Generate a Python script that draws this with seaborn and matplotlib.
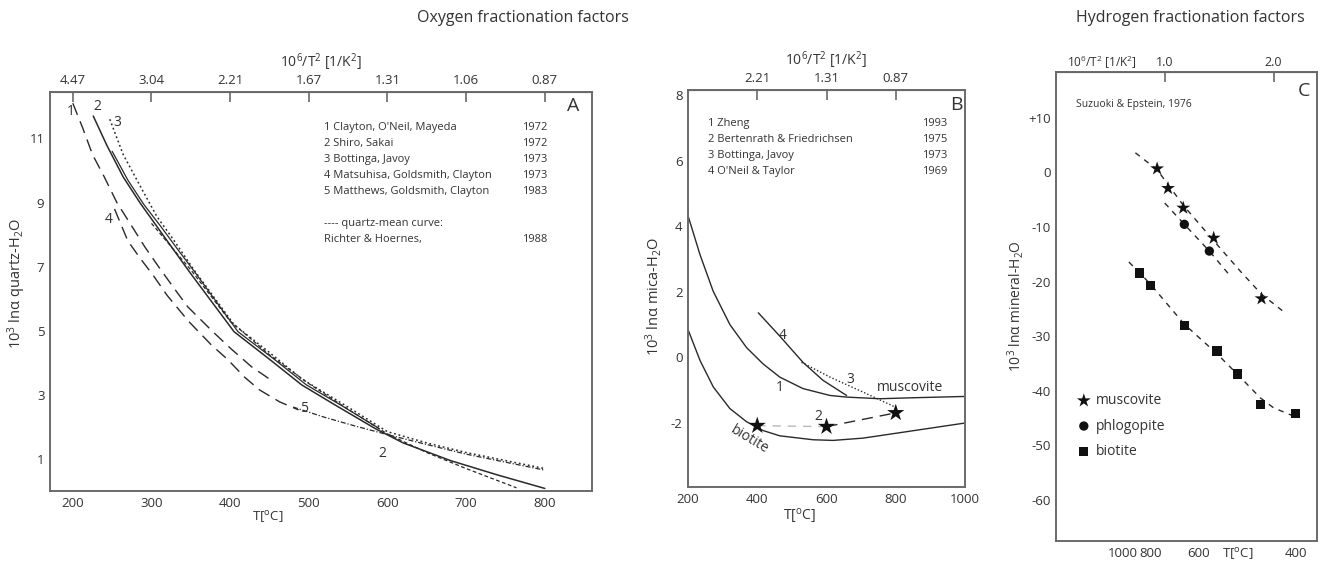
import numpy as np
import pandas as pd
import matplotlib
matplotlib.use("Agg")
import matplotlib.pyplot as plt
import seaborn as sns

sns.set_style("white")
plt.rcParams['font.family'] = ['Open Sans', 'DejaVu Sans']
plt.rcParams['mathtext.default'] = 'regular'
plt.rcParams['axes.unicode_minus'] = False

TXT = '#333333'
LN = '#2a2a2a'
SP = '#6a6a6a'

# ---------------- Panel A data (T in degC, 10^3 ln alpha quartz-H2O) ----------------
a1_T = [200, 213, 225, 240, 256, 273, 292, 309, 328, 346, 378, 401, 427, 455]
a1_v = [12.1, 11.3, 10.5, 9.8, 9.0, 8.34, 7.6, 7.0, 6.35, 5.75, 4.97, 4.44, 3.88, 3.41]
a4_T = [253, 270, 286, 303, 320, 347, 376, 397, 418, 437, 463, 487]
a4_v = [8.8, 7.8, 7.25, 6.7, 6.1, 5.3, 4.56, 4.1, 3.56, 3.16, 2.78, 2.53]
a5_T = [480, 520, 560, 600, 650, 700, 750, 800]
a5_v = [2.62, 2.3, 2.02, 1.76, 1.45, 1.15, 0.9, 0.65]
a2_T = [226, 243, 264, 286, 307, 328, 350, 405, 449, 491, 533, 585, 620, 680, 740, 800]
a2_v = [11.7, 10.8, 9.8, 8.97, 8.25, 7.53, 6.78, 4.97, 4.13, 3.31, 2.69, 1.94, 1.5, 0.95, 0.5, 0.08]
a2b_T = [250, 270, 290, 312, 333, 356, 410, 455, 497, 540, 590]
a2b_v = [10.6, 9.7, 8.95, 8.25, 7.55, 6.8, 4.97, 4.13, 3.31, 2.69, 1.94]
a3_T = [247, 264, 286, 307, 328, 354, 405, 449, 491, 551, 600, 650, 700, 750, 800]
a3_v = [11.6, 10.5, 9.5, 8.56, 7.84, 6.9, 5.19, 4.34, 3.5, 2.6, 1.85, 1.5, 1.2, 0.95, 0.7]
am_T = [300, 350, 400, 450, 500, 550, 600, 650, 700, 764]
am_v = [8.35, 6.9, 5.3, 4.25, 3.35, 2.55, 1.78, 1.2, 0.7, 0.1]

a_xticks = [200, 300, 400, 500, 600, 700, 800]
a_top_labels = ['4.47', '3.04', '2.21', '1.67', '1.31', '1.06', '0.87']
a_yticks = [1, 3, 5, 7, 9, 11]
a_refs = ['1 Clayton, O\'Neil, Mayeda', '2 Shiro, Sakai', '3 Bottinga, Javoy',
          '4 Matsuhisa, Goldsmith, Clayton', '5 Matthews, Goldsmith, Clayton']
a_years = ['1972', '1972', '1973', '1973', '1983']

# ---------------- Panel B data (T in degC, 10^3 ln alpha mica-H2O) ----------------
b1_T = [200, 235, 273, 321, 369, 417, 465, 532, 610, 658, 754, 850, 1000]
b1_v = [4.32, 3.12, 2.01, 1.0, 0.3, -0.2, -0.6, -0.95, -1.16, -1.21, -1.26, -1.23, -1.19]
b4_T = [403, 465, 532, 590, 658]
b4_v = [1.36, 0.65, -0.15, -0.70, -1.16]
b3_T = [528, 610, 706, 802]
b3_v = [-0.15, -0.6, -1.06, -1.53]
bbt_T = [200, 235, 273, 321, 369, 417, 465, 561, 619, 706, 802, 898, 1000]
bbt_v = [0.85, -0.1, -0.9, -1.56, -1.96, -2.23, -2.39, -2.51, -2.53, -2.46, -2.31, -2.16, -2.0]
b2_T = [400, 600, 800]
b2_v = [-2.08, -2.11, -1.69]
b_xticks = [200, 400, 600, 800, 1000]
b_top_T = [400, 600, 800]
b_top_labels = ['2.21', '1.31', '0.87']
b_yticks = [-2, 0, 2, 4, 6, 8]
b_refs = ['1 Zheng', '2 Bertenrath & Friedrichsen', '3 Bottinga, Javoy', "4 O'Neil & Taylor"]
b_years = ['1993', '1975', '1973', '1969']

# ---------------- Panel C data (x = 10^6/T^2, 10^3 ln alpha mineral-H2O) ----------------
mus_x = [0.93, 1.03, 1.17, 1.45, 1.89]
mus_y = [0.7, -2.9, -6.5, -12.0, -23.1]
phl_x = [1.18, 1.41]
phl_y = [-9.5, -14.4]
bio_x = [0.77, 0.87, 1.18, 1.48, 1.67, 1.88, 2.20]
bio_y = [-18.4, -20.7, -28.0, -32.7, -36.9, -42.5, -44.2]
musfit_x = [0.73, 0.93, 1.17, 1.45, 1.70, 1.89, 2.08]
musfit_y = [3.6, 0.5, -6.0, -12.5, -18.2, -22.3, -25.3]
phlfit_x = [1.0, 1.18, 1.41, 1.60]
phlfit_y = [-5.6, -9.5, -14.4, -18.9]
biofit_x = [0.67, 0.77, 0.87, 1.18, 1.48, 1.67, 1.88, 2.0, 2.17]
biofit_y = [-16.4, -18.4, -20.5, -27.8, -33.2, -37.0, -41.3, -43.1, -44.5]
c_T_ticks = [1000, 900, 800, 700, 600, 500, 400]
c_T_labels = ['1000', '', '800', '', '600', 'T[$^{o}$C]', '400']
c_top_ticks = [1.0, 2.0]
c_yticks = [10, 0, -10, -20, -30, -40, -50, -60]
c_ylabels = ['+10', '0', '-10', '-20', '-30', '-40', '-50', '-60']

# ---------------- figure ----------------
W, H = 1333, 564
fig = plt.figure(figsize=(W / 100, H / 100), dpi=100)


def box(l, t, r, b):
    return [l / W, (H - b) / H, (r - l) / W, (b - t) / H]


axA = fig.add_axes(box(50, 92, 592, 491))
axB = fig.add_axes(box(688, 90, 965, 487))
axC = fig.add_axes(box(1056, 72, 1317, 541))


def style(ax):
    for s in ax.spines.values():
        s.set_color(SP)
        s.set_linewidth(1.4)
    ax.tick_params(direction='in', length=7, width=1.2, color=SP, labelcolor=TXT,
                   labelsize=9.5, pad=4)


def line(ax, x, y, ls, lw=1.0, color=LN):
    df = pd.DataFrame({'x': x, 'y': y})
    sns.lineplot(data=df, x='x', y='y', ax=ax, sort=False, color=color,
                 linestyle=ls, linewidth=lw, estimator=None)


# ---- Panel A ----
style(axA)
line(axA, a1_T, a1_v, (0, (9, 5)))
line(axA, a4_T, a4_v, (0, (9, 5)))
line(axA, a2_T, a2_v, '-', 1.1)
line(axA, a2b_T, a2b_v, '-', 0.9)
line(axA, a3_T, a3_v, (0, (1.2, 1.8)), 1.1)
line(axA, am_T, am_v, (0, (3, 2)), 0.9)
line(axA, a5_T, a5_v, (0, (4, 1.5, 1, 1.5)), 0.9)
axA.set_xlim(171, 860)
axA.set_ylim(0.0, 12.45)
axA.set_xticks(a_xticks)
axA.set_yticks(a_yticks)
axA.set_xlabel('T[$^{o}$C]', fontsize=9.5, color=TXT)
axA.xaxis.set_label_coords(0.402, -0.045)
axA.set_ylabel('10$^3$ lnα quartz-H$_2$O', fontsize=10.5, color=TXT)
axA.yaxis.set_label_coords(-0.041, 0.52)
topA = axA.secondary_xaxis('top')
topA.set_xticks(a_xticks, a_top_labels)
topA.tick_params(direction='in', length=7, width=1.2, color=SP, labelcolor=TXT, labelsize=9.5)
topA.set_xlabel('10$^6$/T$^2$ [1/K$^2$]', fontsize=10, color=TXT, labelpad=5)
axA.xaxis.label.set_va('top')
for txt, T, v in [('1', 197, 11.84), ('2', 231, 12.0), ('3', 257, 11.5), ('4', 246, 8.47),
                  ('5', 494, 2.56), ('2', 594, 1.16)]:
    axA.text(T, v, txt, fontsize=10, color=TXT, ha='center', va='center')
for i, (r, yv) in enumerate(zip(a_refs, a_years)):
    yy = 0.912 - i * 0.0401
    axA.text(0.506, yy, r, transform=axA.transAxes, fontsize=8, color=TXT, va='center')
    axA.text(0.918, yy, yv, transform=axA.transAxes, fontsize=8, color=TXT, va='center', ha='right')
axA.text(0.506, 0.671, '---- quartz-mean curve:', transform=axA.transAxes, fontsize=8, color=TXT, va='center')
axA.text(0.506, 0.631, 'Richter & Hoernes,', transform=axA.transAxes, fontsize=8, color=TXT, va='center')
axA.text(0.918, 0.631, '1988', transform=axA.transAxes, fontsize=8, color=TXT, va='center', ha='right')
axA.text(0.966, 0.964, 'A', transform=axA.transAxes, fontsize=14, color=TXT, ha='center', va='center')

# ---- Panel B ----
style(axB)
line(axB, b1_T, b1_v, '-')
line(axB, b4_T, b4_v, '-')
line(axB, b3_T, b3_v, (0, (1, 1.5)))
line(axB, bbt_T, bbt_v, '-')
line(axB, b2_T[:2], b2_v[:2], (0, (6, 5)), 1.0, '#b8b8b8')
line(axB, b2_T[1:], b2_v[1:], (0, (8, 5)), 1.0)
sns.scatterplot(x=b2_T, y=b2_v, ax=axB, marker='*', s=170, color='#111111', edgecolor='none', zorder=5)
axB.set_xlim(200, 1000)
axB.set_ylim(-3.95, 8.15)
axB.set_xticks(b_xticks)
axB.set_yticks(b_yticks)
axB.set_xlabel('T[$^{o}$C]', fontsize=10, color=TXT)
axB.xaxis.set_label_coords(0.404, -0.05)
axB.xaxis.label.set_va('top')
axB.set_ylabel('10$^3$ lnα mica-H$_2$O', fontsize=10.5, color=TXT)
axB.yaxis.set_label_coords(-0.085, 0.48)
topB = axB.secondary_xaxis('top')
topB.set_xticks(b_top_T, b_top_labels)
topB.tick_params(direction='in', length=7, width=1.2, color=SP, labelcolor=TXT, labelsize=9.5)
topB.set_xlabel('10$^6$/T$^2$ [1/K$^2$]', fontsize=10, color=TXT, labelpad=5)
for txt, T, v, fs in [('4', 474, 0.66, 10), ('1', 466, -0.93, 10), ('3', 668, -0.66, 10),
                      ('muscovite', 841, -0.93, 10), ('2', 575, -1.81, 10)]:
    axB.text(T, v, txt, fontsize=fs, color=TXT, ha='center', va='center')
axB.text(379, -2.5, 'biotite', fontsize=10, color=TXT, ha='center', va='center', rotation=-31)
for i, (r, yv) in enumerate(zip(b_refs, b_years)):
    yy = 0.916 - i * 0.0405
    axB.text(0.072, yy, r, transform=axB.transAxes, fontsize=8, color=TXT, va='center')
    axB.text(0.935, yy, yv, transform=axB.transAxes, fontsize=8, color=TXT, va='center', ha='right')
axB.text(0.968, 0.962, 'B', transform=axB.transAxes, fontsize=14, color=TXT, ha='center', va='center')

# ---- Panel C ----
style(axC)
line(axC, musfit_x, musfit_y, (0, (4, 4)))
line(axC, phlfit_x, phlfit_y, (0, (4, 4)))
line(axC, biofit_x, biofit_y, (0, (4, 4)))
sns.scatterplot(x=mus_x, y=mus_y, ax=axC, marker='*', s=110, color='#111111', edgecolor='none',
                zorder=5, label='muscovite')
sns.scatterplot(x=phl_x, y=phl_y, ax=axC, marker='o', s=45, color='#111111', edgecolor='none',
                zorder=5, label='phlogopite')
sns.scatterplot(x=bio_x, y=bio_y, ax=axC, marker='s', s=45, color='#111111', edgecolor='none',
                zorder=5, label='biotite')
axC.set_xlim(0.0, 2.4)
axC.set_ylim(-67.5, 18.4)
c_pos = [1e6 / (t + 273.15) ** 2 for t in c_T_ticks]
axC.set_xticks(c_pos, c_T_labels)
axC.set_yticks(c_yticks, c_ylabels)
axC.set_xlabel('')
axC.set_ylabel('10$^3$ lnα mineral-H$_2$O', fontsize=10, color=TXT)
axC.yaxis.set_label_coords(-0.115, 0.5)
topC = axC.secondary_xaxis('top')
topC.set_xticks(c_top_ticks, ['1.0', '2.0'])
topC.tick_params(direction='in', length=7, width=1.2, color=SP, labelcolor=TXT, labelsize=9, pad=2)
axC.text(0.043, 1.02, '10$^6$/T$^2$ [1/K$^2$]', transform=axC.transAxes, fontsize=8.5, color=TXT,
         va='center')
axC.text(0.075, 0.93, 'Suzuoki & Epstein, 1976', transform=axC.transAxes, fontsize=7.5, color=TXT,
         va='center')
axC.text(0.95, 0.96, 'C', transform=axC.transAxes, fontsize=14, color=TXT, ha='center', va='center')
leg = axC.legend(loc='upper left', bbox_to_anchor=(0.08, 0.315), frameon=False, fontsize=10,
                 handletextpad=0.35, handlelength=1.0, labelspacing=0.75, borderpad=0, borderaxespad=0)
for t in leg.get_texts():
    t.set_color(TXT)

fig.text(0.392, 0.968, 'Oxygen fractionation factors', fontsize=11.5, color=TXT, ha='center', va='center')
fig.text(0.893, 0.968, 'Hydrogen fractionation factors', fontsize=11.5, color=TXT, ha='center', va='center')

fig.savefig('out.png', dpi=100, facecolor='white')
